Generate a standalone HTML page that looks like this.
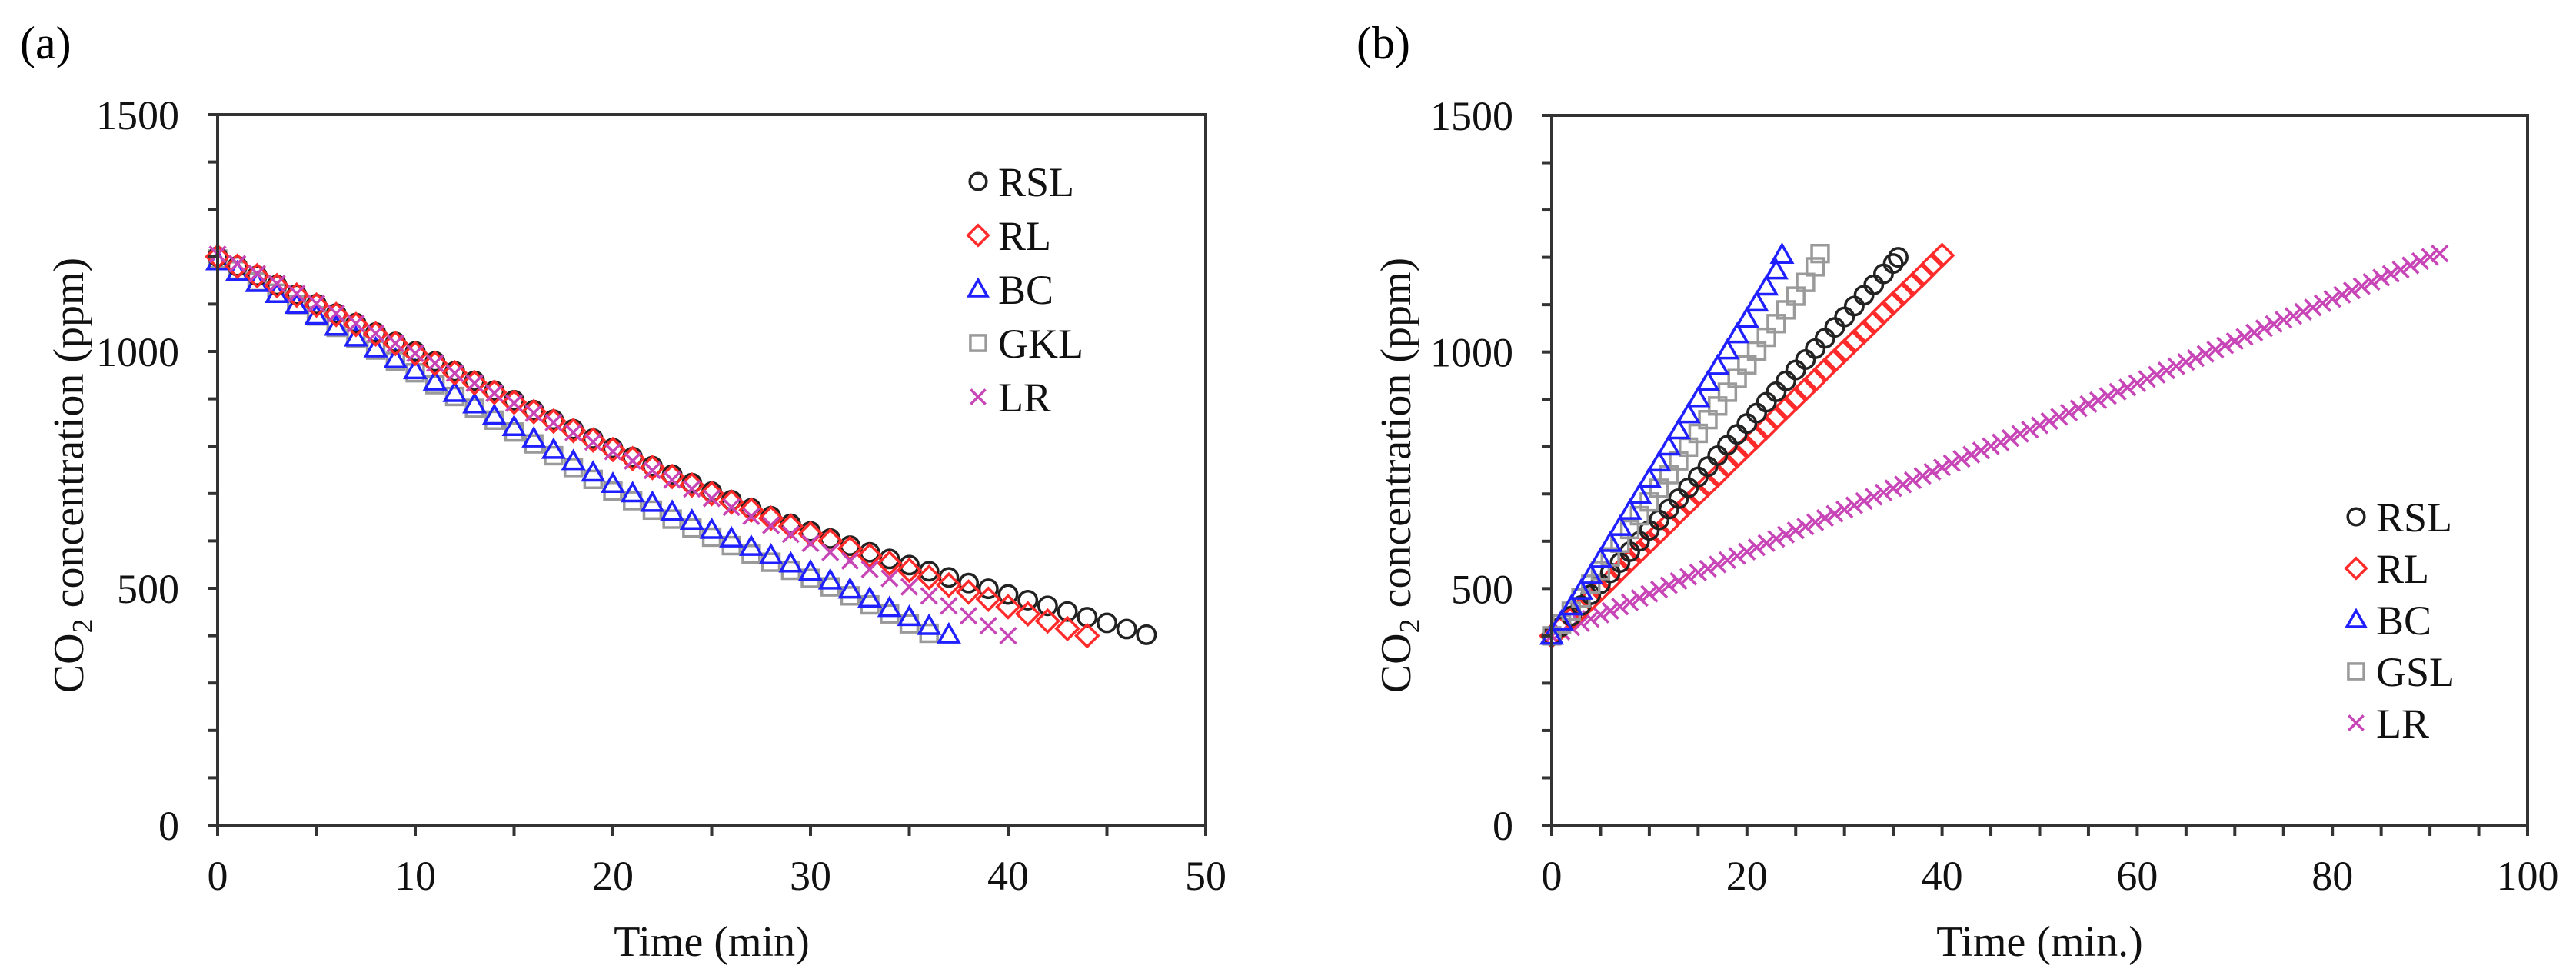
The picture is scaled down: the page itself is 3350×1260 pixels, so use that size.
<!DOCTYPE html>
<html><head><meta charset="utf-8"><style>
html,body{margin:0;padding:0;background:#fff;}
svg{display:block;font-family:"Liberation Serif",serif;}
</style></head><body>
<svg id="fig" width="3350" height="1260" viewBox="0 0 3350 1260" xmlns="http://www.w3.org/2000/svg">
<text x="26" y="76" font-size="60">(a)</text>
<text x="1764" y="76" font-size="60">(b)</text>
<g id="pa"></g>
<g id="pb"></g>
</svg>
<script>
// ---------- Panel (a) data ----------
const aRSL=[1200,1180,1160,1140,1120,1100,1080,1060,1040,1020,1000,979,958,938,917,897,876,856,836,816,796,777,758,740,722,704,686,669,652,636,620,605,590,576,562,549,536,523,511,499,487,475,463,451,439,427,414,402];
const aRL=[1200,1180,1160,1139,1119,1098,1078,1057,1037,1017,996,975,955,934,914,893,873,853,833,813,793,774,755,736,718,700,682,665,648,631,615,600,584,569,553,538,523,507,492,477,461,446,431,415,400];
const aBC=[1190,1167,1144,1121,1098,1075,1052,1029,1006,983,960,936,912,888,864,840,816,792,768,744,720,700,680,661,642,623,605,587,569,552,535,516,497,478,458,439,420,402];
const aGKL=[1195,1171,1147,1123,1099,1075,1051,1027,1003,979,955,930,905,880,855,830,805,780,755,730,705,685,665,646,627,608,590,572,555,538,521,503,484,465,446,425,405];
const aLR=[1205,1185,1164,1143,1122,1101,1080,1059,1038,1017,996,975,954,933,912,891,870,850,829,809,789,769,749,729,710,690,671,652,633,614,595,576,558,540,521,503,484,463,442,421,400];
const aXTicks=["0","10","20","30","40","50"];
const aYTicks=["0","500","1000","1500"];
const aLegend=["RSL","RL","BC","GKL","LR"];
// ---------- Panel (b) data ----------
const bBCt=[0,1,2,3,4,5,6,7,8,9,10,11,12,13,14,15,16,17,18,19,20,21,22,23,23.6];
const bBC=[400,430,462,495,528,562,596,630,664,698,732,766,800,834,868,902,936,970,1003,1037,1070,1104,1138,1172,1205];
const bGSLt=[0,1,2,3,4,5,6,7,8,9,10,11,12,13,14,15,16,17,18,19,20,21,22,23,24,25,26,27,27.5];
const bGSL=[400,425,452,480,509,538,567,596,625,654,683,712,741,770,799,828,857,886,915,944,973,1002,1031,1060,1089,1118,1147,1180,1208];
const bRSLt=[0,1,2,3,4,5,6,7,8,9,10,11,12,13,14,15,16,17,18,19,20,21,22,23,24,25,26,27,28,29,30,31,32,33,34,35,35.5];
const bRSL=[400,420,442,464,487,510,533,555,578,600,623,645,668,690,713,736,758,781,803,826,849,871,894,916,939,962,984,1007,1029,1052,1074,1097,1120,1142,1165,1187,1200];
const bRL=[400,418,437,457,477,497,517,538,558,578,598,618,638,659,679,699,719,739,760,780,800,820,840,861,881,901,921,941,962,982,1002,1022,1042,1062,1083,1103,1123,1143,1163,1184,1204];
const bLR=[400,409,418,427,436,445,453,462,471,480,489,498,507,516,525,534,542,551,560,569,578,587,596,605,614,623,631,640,649,658,667,676,685,694,703,712,720,729,738,747,756,765,774,783,792,801,809,818,827,836,845,854,863,872,881,890,898,907,916,925,934,943,952,961,970,979,987,996,1005,1014,1023,1032,1041,1050,1059,1068,1076,1085,1094,1103,1112,1121,1130,1139,1148,1157,1165,1174,1183,1192,1201,1208];
const bXTicks=["0","20","40","60","80","100"];
const bYTicks=["0","500","1000","1500"];
const bLegend=["RSL","RL","BC","GSL","LR"];

const NS="http://www.w3.org/2000/svg";
const COL={circle:"#222",diamond:"#ff2a2a",tri:"#1f1fff",square:"#9a9a9a",cross:"#c845b8"};
function mk(parent,tag,attrs){const e=document.createElementNS(NS,tag);for(const k in attrs)e.setAttribute(k,attrs[k]);parent.appendChild(e);return e;}
function idx(arr){return arr.map((_,i)=>i);}

function marker(g,type,x,y,s){
  let e;const c=COL[type];const sw=3.5;
  if(type==="circle"){e=mk(g,"circle",{cx:x,cy:y,r:s*0.45,fill:"none",stroke:c,"stroke-width":sw});}
  else if(type==="diamond"){const r=s*0.55;e=mk(g,"polygon",{points:`${x},${y-r} ${x+r},${y} ${x},${y+r} ${x-r},${y}`,fill:"none",stroke:c,"stroke-width":sw});}
  else if(type==="tri"){const r=s*0.5;e=mk(g,"polygon",{points:`${x},${y-r} ${x+r},${y+r*0.75} ${x-r},${y+r*0.75}`,fill:"none",stroke:c,"stroke-width":sw});}
  else if(type==="square"){const r=s*0.42;e=mk(g,"rect",{x:x-r,y:y-r,width:2*r,height:2*r,fill:"none",stroke:c,"stroke-width":sw});}
  else {const r=s*0.4;e=mk(g,"path",{d:`M${x-r},${y-r}L${x+r},${y+r}M${x-r},${y+r}L${x+r},${y-r}`,fill:"none",stroke:c,"stroke-width":sw});}
  
  
}

function panel(g,cfg){
  const {x0,x1,y0,y1,xmax,xTicks,xMinor,yTicks,series,legend,legX,legY,legDY,xTitle,yTitleX}=cfg;
  const X=t=>x0+(t/xmax)*(x1-x0);
  const Y=v=>y0-(v/1500)*(y0-y1);
  series.forEach(s=>{
    const sg=mk(g,"g",{});
    
    
    s.v.forEach((v,i)=>marker(sg,s.type,X(s.t[i]),Y(v),26));
  });
  const ax=mk(g,"rect",{x:x0,y:y1,width:x1-x0,height:y0-y1,fill:"none",stroke:"#333","stroke-width":4});
  
  
  const nMajorX=xTicks.length-1;
  for(let k=0;k<=nMajorX*xMinor;k++){
    const t=k*xmax/(nMajorX*xMinor);
    const tk=mk(g,"line",{x1:X(t),y1:y0,x2:X(t),y2:y0+14,stroke:"#333","stroke-width":4});
    
    
  }
  xTicks.forEach((lab,i)=>{
    const tx=mk(g,"text",{x:X(i*xmax/nMajorX),y:1157,"font-size":54,"text-anchor":"middle",fill:"#111"});
    tx.textContent=lab;
    
    
  });
  for(let v=0;v<=1500;v+=100){
    const tk=mk(g,"line",{x1:x0-13,y1:Y(v),x2:x0,y2:Y(v),stroke:"#333","stroke-width":4});
    
    
  }
  yTicks.forEach((lab,i)=>{
    const ty=mk(g,"text",{x:x0-50,y:Y(i*500)+19,"font-size":54,"text-anchor":"end",fill:"#111"});
    ty.textContent=lab;
    
    
  });
  const xt=mk(g,"text",{x:(x0+x1)/2,y:1243,"font-size":56,"text-anchor":"middle",fill:"#111"});
  xt.textContent=xTitle;
  
  
  const yt=mk(g,"text",{x:0,y:0,"font-size":56,"text-anchor":"middle",fill:"#111",transform:`translate(${yTitleX+19},618) rotate(-90)`});
  
  
  yt.innerHTML='CO<tspan font-size="38" dy="12">2</tspan><tspan dy="-12"> concentration (ppm)</tspan>';
  const lg=mk(g,"g",{});
  
  
  legend.forEach((name,i)=>{
    const y=legY+i*legDY;
    marker(lg,series.find(s=>s.name===name).type,legX,y,24);
    const lt=mk(lg,"text",{x:legX+26,y:y+19,"font-size":54,fill:"#111"});
    lt.textContent=name;
    
    
  });
}

panel(document.getElementById('pa'),{
  x0:283,x1:1568,y0:1073,y1:149,xmax:50,xTicks:aXTicks,xMinor:2,yTicks:aYTicks,
  series:[
    {name:"GKL",type:"square",t:idx(aGKL),v:aGKL},
    {name:"BC",type:"tri",t:idx(aBC),v:aBC},
    {name:"RSL",type:"circle",t:idx(aRSL),v:aRSL},
    {name:"RL",type:"diamond",t:idx(aRL),v:aRL},
    {name:"LR",type:"cross",t:idx(aLR),v:aLR}
  ],
  legend:aLegend,legX:1272,legY:236,legDY:70,xTitle:"Time (min)",yTitleX:89
});
panel(document.getElementById('pb'),{
  x0:2018,x1:3287,y0:1073,y1:150,xmax:100,xTicks:bXTicks,xMinor:4,yTicks:bYTicks,
  series:[
    {name:"LR",type:"cross",t:idx(bLR),v:bLR},
    {name:"RL",type:"diamond",t:idx(bRL),v:bRL},
    {name:"RSL",type:"circle",t:bRSLt,v:bRSL},
    {name:"GSL",type:"square",t:bGSLt,v:bGSL},
    {name:"BC",type:"tri",t:bBCt,v:bBC}
  ],
  legend:bLegend,legX:3064,legY:672,legDY:67,xTitle:"Time (min.)",yTitleX:1815
});
</script>
</body></html>
